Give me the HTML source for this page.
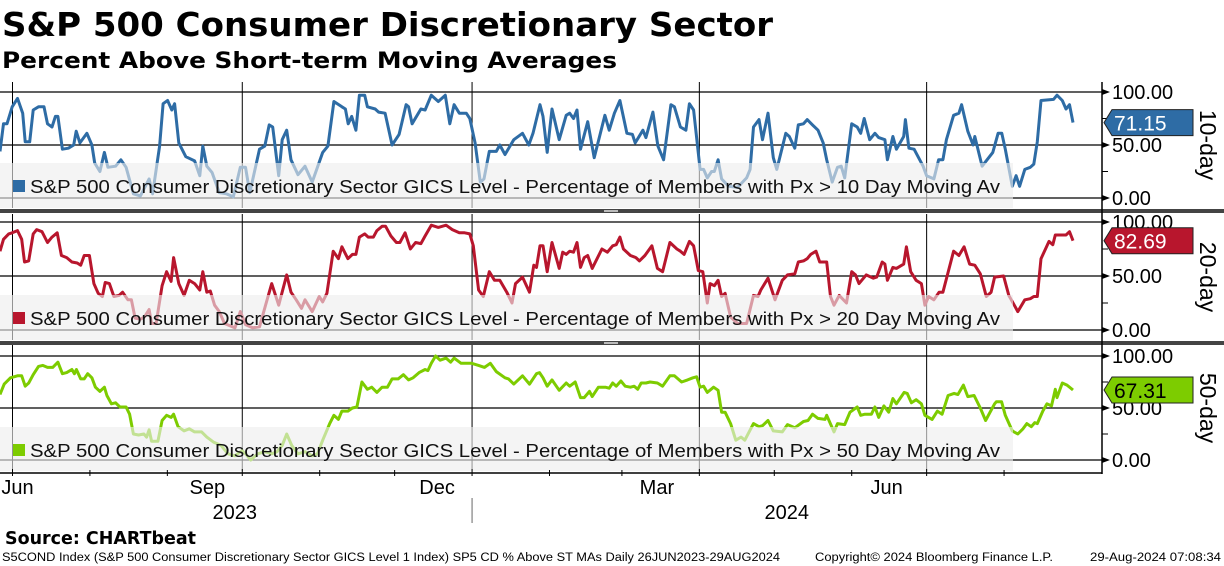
<!DOCTYPE html>
<html><head><meta charset="utf-8"><style>
html,body{margin:0;padding:0;background:#fff;}
svg{display:block;font-family:"Liberation Sans",sans-serif;}
</style></head><body>
<svg id="chart" width="1224" height="566" viewBox="0 0 1224 566" xmlns="http://www.w3.org/2000/svg">
<text x="2" y="36" font-family="DejaVu Sans" font-weight="bold" font-size="33" textLength="771" lengthAdjust="spacingAndGlyphs">S&amp;P 500 Consumer Discretionary Sector</text>
<text x="2" y="68" font-family="DejaVu Sans" font-weight="bold" font-size="22" textLength="615" lengthAdjust="spacingAndGlyphs">Percent Above Short-term Moving Averages</text>
<g id="plots"></g>
<text x="5" y="544" font-family="DejaVu Sans" font-weight="bold" font-size="18" textLength="191" lengthAdjust="spacingAndGlyphs">Source: CHARTbeat</text>
<text x="2" y="561" font-size="11.5" textLength="778" lengthAdjust="spacingAndGlyphs">S5COND Index (S&amp;P 500 Consumer Discretionary Sector GICS Level 1 Index) SP5 CD % Above ST MAs  Daily 26JUN2023-29AUG2024</text>
<text x="815" y="561" font-size="11.5" textLength="238" lengthAdjust="spacingAndGlyphs">Copyright© 2024 Bloomberg Finance L.P.</text>
<text x="1090" y="561" font-size="11.5" textLength="131" lengthAdjust="spacingAndGlyphs">29-Aug-2024 07:08:34</text>
</svg>
<script>
const totalDays = 430;
const monthTickDays = [5,36,67,97,128,158,189,220,249,280,310,341,371,402];
const quarterDays = [5,97,189,280,371];
const monthLabels = ["Jun","Sep","Dec","Mar","Jun"];
const monthLabelDays = [7,83,175,263,355];
const yearLabels = ["2023","2024"];
const yearLabelDays = [94,315];
const yTicks = [0,50,100];
const yTickLabels = ["0.00","50.00","100.00"];

const days10 = [0,1.4,2.8,4.9,7.0,9.1,10.1,11.9,13.3,15.4,17.6,19.0,20.8,22.2,23.2,25.0,27.4,29.5,30.5,32.0,34.8,36.8,37.9,40.0,41.8,43.2,46.3,48.4,50.5,53.4,56.2,59.7,61.1,63.9,65.3,67.1,68.8,69.9,71.6,74.4,77.9,80.0,81.2,82.8,84.9,87.8,90.6,93.4,96.2,98.3,100.0,103.9,106.0,107.8,109.2,111.6,113.0,114.8,116.5,119.3,122.1,125.0,129.2,131.3,133.7,136.9,138.3,139.4,140.8,142.5,143.9,146.0,147.1,150.2,151.6,154.2,157.0,159.8,160.8,162.6,163.6,165.0,168.5,170.2,172.7,175.5,178.3,180.1,181.8,183.9,186.7,188.1,190.2,192.3,193.8,195.9,198.7,200.1,202.2,205.7,209.2,211.7,213.4,216.2,217.4,219.1,221.0,223.9,226.7,228.1,229.6,231.0,232.4,235.3,237.9,242.2,243.9,246.0,248.2,251.0,253.2,254.3,257.4,258.6,261.4,263.4,265.7,268.6,270.0,272.4,274.6,276.0,277.7,280.3,281.7,283.2,284.9,286.0,287.5,288.9,291.7,295.3,298.9,300.3,301.7,303.9,305.3,307.5,309.6,311.0,314.6,316.0,318.2,319.6,321.7,323.2,325.3,327.5,329.6,331.0,333.2,335.3,336.8,338.2,341.0,343.2,344.6,346.0,348.2,350.3,351.8,354.3,355.3,357.5,358.9,361.8,362.5,363.9,366.0,369.6,371.0,373.9,375.8,377.5,378.9,381.8,383.9,385.0,387.5,389.6,390.3,393.2,397.5,399.6,401.1,402.5,405.3,406.8,408.2,410.3,412.5,413.9,415.3,416.8,421.8,423.2,425.3,426.8,428.2,429.6];
const vals10 = [44,70,70,86,94,80,53,53,83,86,86,70,67,77,77,46,47,50,63,52,61,50,33,25,43,29,30,36,29,4,2,18,4,49,89,92,83,89,52,39,35,21,49,30,24,5,4,1,29,29,5,46,49,69,67,21,55,64,36,22,30,15,43,49,91,86,84,70,77,64,97,97,86,84,81,80,50,60,70,88,86,70,84,83,97,91,97,70,88,80,80,75,52,15,18,44,44,50,41,55,61,50,61,88,77,43,84,55,78,80,75,83,46,72,38,78,64,80,92,61,60,52,64,57,81,49,36,88,86,67,64,89,83,27,27,19,25,25,36,18,11,10,19,27,67,74,55,80,38,27,61,58,47,69,70,74,69,64,52,36,15,29,30,19,70,67,61,75,55,61,57,55,36,58,46,58,74,47,46,30,21,18,36,36,55,78,80,88,63,50,58,30,43,61,61,46,11,21,11,27,29,32,53,92,93,97,92,84,88,71.15];

const days20 = [0,1.4,3.5,4.9,7.0,8.7,9.8,11.5,13.3,14.7,16.8,19.0,20.8,22.9,24.6,26.7,28.8,30.9,32.3,33.7,35.8,37.6,39.3,41.0,42.1,43.8,45.6,47.7,49.1,51.2,52.6,54.1,56.2,57.8,59.7,60.7,62.5,64.9,66.7,68.5,69.5,71.6,73.7,75.8,77.9,80.0,81.2,82.8,84.2,85.9,87.8,89.9,94.1,96.2,98.3,101.1,103.9,106.7,108.8,111.6,114.8,116.5,118.6,120.7,122.1,125.0,127.8,129.2,130.9,133.4,135.5,136.9,139.3,141.1,142.5,143.9,146.0,147.4,149.5,150.9,153.0,154.4,156.5,158.7,160.1,162.2,164.3,166.4,168.5,170.2,172.7,175.5,178.6,181.1,183.9,186.0,188.1,189.5,191.6,193.5,195.9,198.0,200.1,202.9,205.0,206.4,209.2,212.0,213.7,214.8,216.2,217.4,219.1,221.0,223.9,225.3,226.7,228.1,229.6,231.0,232.4,233.9,235.3,237.1,241.0,243.2,245.3,246.7,248.2,249.6,252.4,254.6,256.0,258.2,261.0,263.2,265.3,268.2,271.0,272.4,273.9,276.0,277.7,279.6,281.4,283.2,284.3,286.0,287.5,288.9,290.3,292.5,295.3,298.9,301.7,303.5,304.6,307.5,310.3,313.2,315.3,318.2,319.6,321.7,323.2,324.6,326.7,328.2,331.0,332.5,333.9,336.0,338.9,341.0,342.5,343.9,346.8,349.6,351.0,353.2,354.3,355.3,357.5,358.9,361.8,362.9,364.6,366.8,368.9,370.3,371.8,373.9,376.0,377.5,381.8,383.9,386.0,388.2,390.3,392.5,394.9,396.8,398.2,401.8,403.9,406.1,407.5,410.3,412.5,413.9,415.3,416.8,418.6,420.0,421.5,422.5,425.3,426.8,428.2,429.6];
const vals20 = [73,84,89,90,92,84,63,64,89,93,91,81,86,90,69,67,63,62,60,69,69,43,34,31,44,43,31,32,35,28,28,11,10,12,19,6,6,41,54,45,67,43,32,46,43,37,54,35,36,23,17,6,2,17,5,2,3,26,43,23,51,35,28,20,28,17,31,26,34,73,66,77,66,70,70,86,89,86,86,92,96,96,87,81,81,90,75,81,80,87,97,95,97,93,90,90,89,78,37,31,54,46,46,35,25,43,49,35,60,58,78,78,54,81,57,72,70,73,72,81,58,67,69,57,75,72,78,79,86,75,69,67,64,69,78,57,54,81,75,73,70,82,78,55,54,25,43,41,46,31,34,12,6,6,32,31,37,48,28,46,51,52,63,64,66,70,73,63,63,31,23,32,25,54,51,43,51,48,49,63,61,46,58,57,61,77,54,46,43,23,31,28,35,35,73,69,77,61,60,52,31,35,49,50,32,23,17,28,29,31,31,66,75,82,79,88,88,88,91,82.69];

const days50 = [0,1.7,4.2,7.0,8.7,10.1,11.5,13.3,15.4,17.1,19.0,21.1,23.2,25.0,26.7,28.8,29.8,30.6,32.3,33.7,35.1,36.8,38.2,40.0,41.8,42.8,44.6,46.3,48.0,50.5,51.9,53.4,55.5,57.6,58.7,59.7,60.7,63.2,64.9,66.7,68.5,69.5,71.3,73.7,75.8,77.9,80.7,82.8,85.6,88.5,91.3,94.1,96.9,98.3,100.4,103.2,106.0,108.8,110.9,113.0,114.8,116.8,119.3,122.1,125.0,127.1,129.2,132.0,133.7,135.5,136.9,139.3,141.1,142.9,144.9,147.1,148.8,150.9,153.0,155.1,157.0,159.4,161.5,163.6,165.4,167.8,170.2,171.3,172.7,174.4,176.2,178.6,180.4,181.8,184.6,188.8,191.6,194.0,196.3,198.7,202.2,203.6,205.7,209.2,212.0,214.8,216.0,217.4,219.1,221.0,223.9,226.7,228.1,230.3,232.4,233.9,236.0,237.1,239.6,242.4,243.9,245.3,246.7,248.6,250.3,252.4,253.9,255.3,256.7,258.6,260.3,263.2,265.3,268.2,270.0,272.9,275.3,277.4,278.9,280.3,281.7,283.2,285.7,287.5,288.9,290.3,292.5,294.6,296.7,298.2,301.7,303.9,305.3,307.5,309.6,313.2,315.3,318.2,321.7,323.5,325.3,327.5,330.3,331.0,333.9,335.3,338.2,340.3,343.2,344.6,346.3,348.9,350.3,351.8,353.9,355.8,357.5,358.9,362.0,363.2,364.9,366.8,368.9,370.3,373.2,375.3,377.2,379.6,382.0,383.5,385.7,387.5,390.0,392.5,394.6,398.2,398.9,401.0,402.5,405.3,407.5,409.6,411.1,412.9,414.3,415.3,417.5,419.2,421.0,422.5,423.2,425.3,427.2,429.6];
const vals50 = [63,73,79,81,81,71,74,82,90,91,89,89,94,83,84,87,83,87,78,78,83,79,70,66,70,62,54,55,51,51,44,25,24,25,22,29,18,18,38,43,41,44,32,28,30,27,27,22,17,14,6,4,9,6,0,6,8,6,8,14,25,14,6,8,4,6,19,35,43,39,47,47,50,51,75,68,70,65,70,70,78,78,82,77,79,84,87,86,93,100,96,98,94,98,93,93,91,89,93,85,79,78,73,81,73,83,84,79,71,77,67,74,71,75,60,60,66,61,70,70,69,74,71,76,71,70,71,68,74,74,75,74,71,81,81,75,77,79,80,70,71,65,70,67,46,46,35,19,22,19,35,32,33,38,28,27,34,31,37,38,44,40,39,43,27,35,34,46,51,43,44,44,51,41,52,46,59,54,65,64,55,58,54,43,39,47,44,62,64,63,72,61,62,50,38,54,56,56,43,28,25,30,35,32,36,35,47,54,52,68,60,74,72,67.31];

const panels = [
  {id:"10-day", top:82, y0:198, y100:92, bottom:208, legTop:163, color:"#2e6ca5", labelFill:"#fff", label:"71.15", days:days10, vals:vals10, legend:"S&P 500 Consumer Discretionary Sector GICS Level - Percentage of Members with Px > 10 Day Moving Av"},
  {id:"20-day", top:214, y0:330, y100:222, bottom:340, legTop:295, color:"#b8162d", labelFill:"#fff", label:"82.69", days:days20, vals:vals20, legend:"S&P 500 Consumer Discretionary Sector GICS Level - Percentage of Members with Px > 20 Day Moving Av"},
  {id:"50-day", top:345, y0:460, y100:356, bottom:471, legTop:427, color:"#7dcc00", labelFill:"#000", label:"67.31", days:days50, vals:vals50, legend:"S&P 500 Consumer Discretionary Sector GICS Level - Percentage of Members with Px > 50 Day Moving Av"}
];
const NS = "http://www.w3.org/2000/svg";
const root = document.getElementById("plots");
const plotRight = 1102, plotW = 1074;
function xS(d){ return d/totalDays*plotW; }
function mk(tag, attrs, parent){ const e=document.createElementNS(NS,tag); for(const k in attrs) e.setAttribute(k,attrs[k]); (parent||root).appendChild(e); return e; }

panels.forEach((p,pi)=>{
  const yS = v => p.y0 + (p.y100-p.y0)*v/100;
  const g = mk("g",{});
  
  
  quarterDays.forEach(d=>{
    const l = mk("line",{x1:xS(d),x2:xS(d),y1:p.top,y2:p.bottom,stroke:"#000","stroke-width":1},g);
    
    
  });
  yTicks.forEach((t,i)=>{
    const y = yS(t);
    const l = mk("line",{x1:0,x2:plotRight,y1:y,y2:y,stroke:"#000","stroke-width":1.2},g);
    
    
    const a = mk("path",{d:`M${plotRight} ${y-3}L${plotRight+8} ${y}L${plotRight} ${y+3}Z`,fill:"#000"},g);
    
    
    const tx = mk("text",{x:1112,y:y+7,"font-size":20,fill:"#000"},g);
    
    
    tx.textContent = yTickLabels[i];
  });
  [25,75].forEach(t=>{
    const y=yS(t);
    const m = mk("line",{x1:plotRight,x2:plotRight+6,y1:y,y2:y,stroke:"#000"},g);
    
    
  });
  const dpath = p.days.map((d,i)=>(i?"L":"M")+xS(d).toFixed(1)+" "+yS(p.vals[i]).toFixed(1)).join("");
  const path = mk("path",{d:dpath,fill:"none",stroke:p.color,"stroke-width":3,"stroke-linejoin":"round"},g);
  
  
  const lb = mk("rect",{x:0,y:p.legTop,width:1013,height:p.bottom-p.legTop,fill:"rgba(238,238,238,0.62)"},g);
  
  
  const sw = mk("rect",{x:13,y:p.legTop+17,width:12,height:12,fill:p.color},g);
  
  
  const lt = mk("text",{x:30,y:p.legTop+30,"font-size":18,fill:"#111",textLength:970,lengthAdjust:"spacingAndGlyphs"},g);
  
  
  lt.textContent = p.legend;
  const last = p.vals[p.vals.length-1], ly = yS(last);
  const tag = mk("path",{d:`M1104 ${ly}L1112 ${ly-13}L1193 ${ly-13}L1193 ${ly+13}L1112 ${ly+13}Z`,fill:p.color,stroke:"#222","stroke-width":1},g);
  
  
  const tt = mk("text",{x:1114,y:ly+8,"font-size":21,fill:p.labelFill},g);
  
  
  tt.textContent = p.label;
  const cy = (p.top+p.bottom)/2;
  const pt = mk("text",{x:1200,y:cy,"font-size":23,fill:"#000","text-anchor":"middle",transform:`rotate(90 1200 ${cy})`},g);
  
  
  pt.textContent = p.id;
  if(pi<2){
    const s = mk("rect",{x:0,y:p.bottom+1,width:1224,height:4,fill:"#444"});
    
    
    const h = mk("rect",{x:604,y:p.bottom+2,width:14,height:2,fill:"#bbb"});
    
    
  }
});
const ax = mk("line",{x1:plotRight,x2:plotRight,y1:82,y2:474,stroke:"#000","stroke-width":1.5});


const xa = mk("line",{x1:0,x2:plotRight,y1:473,y2:473,stroke:"#000","stroke-width":1.5});


monthTickDays.forEach(d=>{
  const t = mk("line",{x1:xS(d),x2:xS(d),y1:quarterDays.includes(d)?469:470,y2:476,stroke:"#000"});
  
  
});
monthLabels.forEach((m,i)=>{
  const t = mk("text",{x:xS(monthLabelDays[i]),y:494,"font-size":20,"text-anchor":"middle"});
  
  
  t.textContent = m;
});
yearLabels.forEach((m,i)=>{
  const t = mk("text",{x:xS(yearLabelDays[i]),y:519,"font-size":20,"text-anchor":"middle"});
  
  
  t.textContent = m;
});
const yd = mk("line",{x1:xS(189),x2:xS(189),y1:498,y2:523,stroke:"#666"});


</script>
</body></html>
